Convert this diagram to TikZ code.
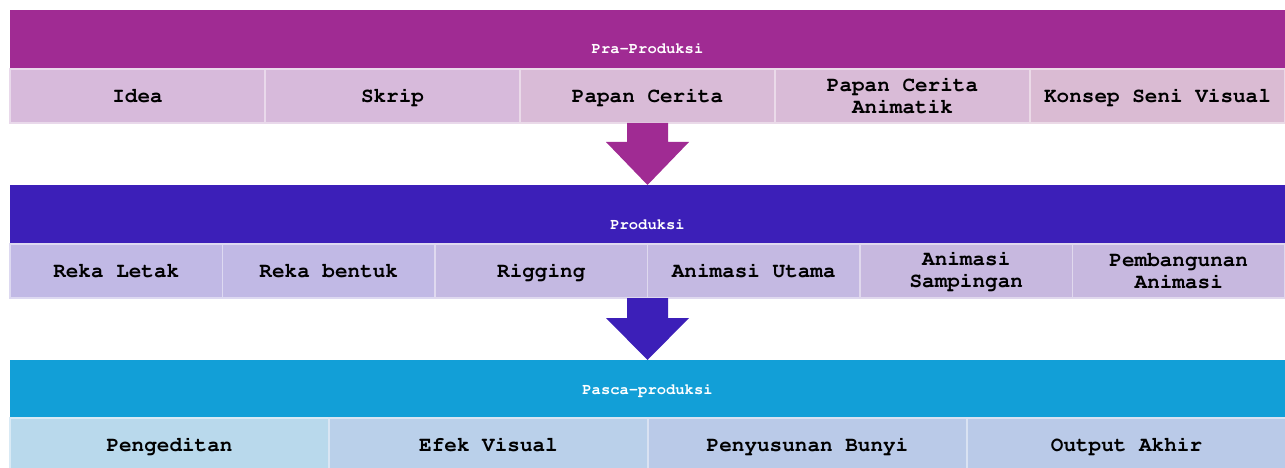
\documentclass[tikz,border=0pt]{standalone}
\usepackage[T1]{fontenc}
\usepackage{courier}
\usepackage{xcolor}
\usepackage{tikz}

\definecolor{praHead}{HTML}{A02B93}
\definecolor{praBoxA}{HTML}{D7BADB}
\definecolor{praBoxB}{HTML}{D9BBD7}
\definecolor{praBoxC}{HTML}{DABBD3}
\definecolor{prodHead}{HTML}{3C1FB8}
\definecolor{prodBoxA}{HTML}{C1B9E5}
\definecolor{prodBoxB}{HTML}{C4B9E2}
\definecolor{prodBoxC}{HTML}{C7B8DF}
\definecolor{pascaHead}{HTML}{129FD7}
\definecolor{pascaBoxA}{HTML}{B9D9EC}
\definecolor{pascaBoxB}{HTML}{BAD0EA}
\definecolor{pascaBoxC}{HTML}{BACAE8}

\tikzset{
  header/.style={rectangle, minimum width=1275pt, inner sep=0pt},
  headtext/.style={text=white, font=\ttfamily\bfseries\fontsize{15.5}{17}\selectfont},
  item/.style={rectangle, draw=white!45!#1, line width=1.5pt, fill=#1, inner sep=0pt,
    align=center, text height=17pt, text depth=4pt,
    font=\ttfamily\bfseries\fontsize{21}{22}\selectfont},
  twoline/.style={text height=, text depth=}
}

\begin{document}
\begin{tikzpicture}[x=1pt, y=-1pt]
    \useasboundingbox (0,0) rectangle (1285,468);
    % Pra-Produksi
    \node[header, fill=praHead, minimum height=59pt] (pra) at (647.5,39.5) {};
    \node[headtext] (praText) at (647.5,48.5) {Pra-Produksi};
    \node[item=praBoxA, minimum width=255pt, minimum height=54pt] (idea) at (137.5,96) {Idea};
    \node[item=praBoxA, minimum width=255pt, minimum height=54pt] (skrip) at (392.5,96) {Skrip};
    \node[item=praBoxB, minimum width=255pt, minimum height=54pt] (papan) at (647.5,96) {Papan Cerita};
    \node[item=praBoxB, minimum width=255pt, minimum height=54pt, twoline] (animatik) at (902.5,96) {Papan Cerita\\Animatik};
    \node[item=praBoxC, minimum width=255pt, minimum height=54pt] (konsep) at (1157.5,96) {Konsep Seni Visual};
    \fill[praHead] (627,123) -- (668,123) -- (668,142) -- (689,142) -- (647.5,185)
        -- (606,142) -- (627,142) -- cycle;

    % Produksi
    \node[header, fill=prodHead, minimum height=59pt] (prod) at (647.5,214.5) {};
    \node[headtext] (prodText) at (647.5,224.5) {Produksi};
    \node[item=prodBoxA, minimum width=212.5pt, minimum height=54pt] (letak) at (116.25,271) {Reka Letak};
    \node[item=prodBoxA, minimum width=212.5pt, minimum height=54pt] (bentuk) at (328.75,271) {Reka bentuk};
    \node[item=prodBoxB, minimum width=212.5pt, minimum height=54pt] (rigging) at (541.25,271) {Rigging};
    \node[item=prodBoxB, minimum width=212.5pt, minimum height=54pt] (utama) at (753.75,271) {Animasi Utama};
    \node[item=prodBoxC, minimum width=212.5pt, minimum height=54pt, twoline] (sampingan) at (966.25,271) {Animasi\\Sampingan};
    \node[item=prodBoxC, minimum width=212.5pt, minimum height=54pt, twoline] (bangun) at (1178.75,271) {Pembangunan\\Animasi};
    \fill[prodHead] (627,298) -- (668,298) -- (668,318) -- (689,318) -- (647.5,360)
        -- (606,318) -- (627,318) -- cycle;

    % Pasca-produksi
    \node[header, fill=pascaHead, minimum height=58pt] (pasca) at (647.5,389) {};
    \node[headtext] (pascaText) at (647.5,390.5) {Pasca-produksi};
    \node[item=pascaBoxA, minimum width=319pt, minimum height=54pt] (edit) at (169.5,445) {Pengeditan};
    \node[item=pascaBoxB, minimum width=319pt, minimum height=54pt] (efek) at (488.5,445) {Efek Visual};
    \node[item=pascaBoxC, minimum width=319pt, minimum height=54pt] (bunyi) at (807.5,445) {Penyusunan Bunyi};
    \node[item=pascaBoxC, minimum width=319pt, minimum height=54pt] (output) at (1126.5,445) {Output Akhir};
\end{tikzpicture}
\end{document}
